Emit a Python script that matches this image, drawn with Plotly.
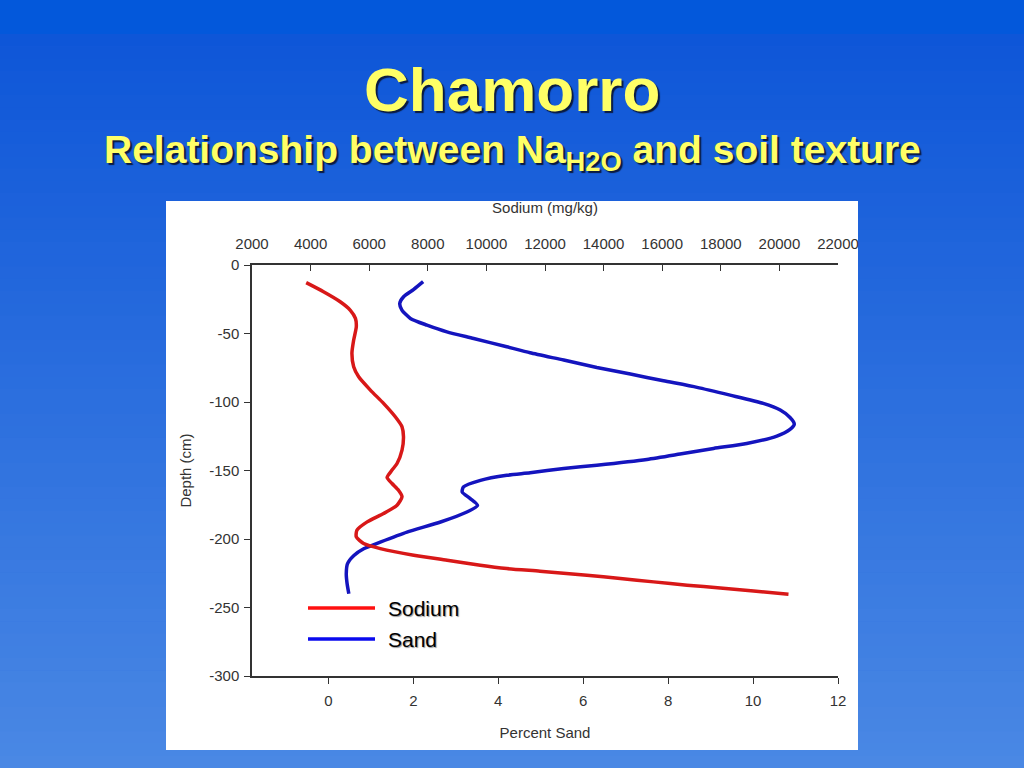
import plotly.graph_objects as go

# ---------------- data ----------------
sodium_depth = [-12.9, -19.5, -26.8, -32.9, -39.0, -45.1, -54.8, -64.5, -74.3, -81.6,
                -91.3, -101.0, -110.8, -118.1, -125.4, -135.1, -144.9, -149.7, -155.1, -159.5,
                -164.4, -169.2, -175.3, -181.4, -187.5, -193.6, -198.5, -203.3, -207.0, -211.9,
                -215.5, -219.2, -221.6, -223.5, -226.4, -228.9, -231.3, -233.7, -235.7, -237.9,
                -240.3]
sodium_mgkg = [3850, 4440, 5010, 5350, 5530, 5560, 5470, 5410, 5470, 5640,
               6040, 6490, 6890, 7120, 7170, 7120, 6950, 6780, 6610, 6780,
               7000, 7120, 6950, 6490, 5930, 5580, 5560, 5810, 6380, 7520,
               8660, 9790, 10700, 11830, 13430, 14570, 15710, 16850, 17980, 19120,
               20310]

sand_depth = [-12.2, -17.8, -23.2, -28.0, -32.9, -39.0, -43.9, -48.8, -53.6, -59.7,
              -64.1, -69.4, -74.8, -79.6, -84.5, -89.3, -95.0, -101.0, -105.9, -111.3,
              -116.1, -120.0, -124.9, -130.3, -133.9, -138.0, -141.9, -146.1, -148.5, -151.7,
              -153.5, -157.2, -162.0, -165.7, -170.5, -175.4, -180.3, -187.6, -195.0, -202.3,
              -207.1, -212.0, -218.0, -225.4, -232.7, -240.0]
sand_pct = [2.23, 2.01, 1.77, 1.68, 1.73, 1.93, 2.32, 2.79, 3.42, 4.20,
            4.75, 5.54, 6.32, 7.11, 7.89, 8.68, 9.46, 10.24, 10.64, 10.87,
            10.97, 10.87, 10.56, 9.85, 9.07, 8.28, 7.50, 6.32, 5.54, 4.75,
            4.20, 3.58, 3.18, 3.15, 3.34, 3.51, 3.26, 2.64, 1.85, 1.22,
            0.83, 0.60, 0.45, 0.42, 0.44, 0.48]

sand_ticks = [0, 2, 4, 6, 8, 10, 12]
sand_labels = ["0", "2", "4", "6", "8", "10", "12"]
sodium_ticks = [2000, 4000, 6000, 8000, 10000, 12000, 14000, 16000, 18000, 20000, 22000]
sodium_labels = ["2000", "4000", "6000", "8000", "10000", "12000", "14000", "16000",
                 "18000", "20000", "22000"]
depth_ticks = [0, -50, -100, -150, -200, -250, -300]
depth_labels = ["0", "-50", "-100", "-150", "-200", "-250", "-300"]

series_names = ["Sodium", "Sand"]

# ---------------- layout geometry ----------------
FW, FH = 1024, 768
PL, PR, PT, PB = 252, 838, 265, 676
PW, PH = PR - PL, PB - PT


def px(x):
    return (x - PL) / PW


def py(y):
    return (PB - y) / PH


def lerp(c1, c2, t):
    return "rgb(%d,%d,%d)" % tuple(round(a + (b - a) * t) for a, b in zip(c1, c2))


shapes = []
# top band
shapes.append(dict(type="rect", xref="paper", yref="paper", x0=px(0), x1=px(FW),
                   y0=py(34), y1=py(0), fillcolor="rgb(3,88,219)", line=dict(width=0),
                   layer="below"))
# gradient
c_top, c_bot = (14, 86, 216), (74, 136, 228)
n = 60
step = (FH - 34) / n
for i in range(n):
    y0 = 34 + i * step
    y1 = y0 + step + 0.6
    shapes.append(dict(type="rect", xref="paper", yref="paper", x0=px(0), x1=px(FW),
                       y0=py(min(y1, FH)), y1=py(y0),
                       fillcolor=lerp(c_top, c_bot, (i + 0.5) / n),
                       line=dict(width=0), layer="below"))
# white chart panel
shapes.append(dict(type="rect", xref="paper", yref="paper", x0=px(166), x1=px(858),
                   y0=py(750), y1=py(201), fillcolor="white", line=dict(width=0),
                   layer="below"))
# legend keys
shapes.append(dict(type="line", xref="paper", yref="paper", x0=px(308), x1=px(375),
                   y0=py(608), y1=py(608), line=dict(color="#FF1010", width=3.5)))
shapes.append(dict(type="line", xref="paper", yref="paper", x0=px(308), x1=px(375),
                   y0=py(639), y1=py(639), line=dict(color="#0A0AEE", width=3.5)))

title_font = dict(family="Liberation Sans, Arial, sans-serif", color="#FFFF66",
                  shadow="2px 2px 1px #0A1A40")
legend_font = dict(size=21, family="Liberation Sans, Arial, sans-serif", color="black",
                   shadow="1px 1px 1px #999")
annotations = [
    dict(text="<b>Chamorro</b>", xref="paper", yref="paper", x=px(512), y=py(89),
         showarrow=False, xanchor="center", yanchor="middle",
         font=dict(size=62, **title_font)),
    dict(text="<b>Relationship between Na<sub>H2O</sub> and soil texture</b>",
         xref="paper", yref="paper", x=px(512), y=py(152), showarrow=False,
         xanchor="center", yanchor="middle", font=dict(size=39, **title_font)),
    dict(text=series_names[0], xref="paper", yref="paper", x=px(386), y=py(608),
         showarrow=False, xanchor="left", yanchor="middle", font=legend_font),
    dict(text=series_names[1], xref="paper", yref="paper", x=px(386), y=py(639),
         showarrow=False, xanchor="left", yanchor="middle", font=legend_font),
]

axis_font = dict(family="Liberation Sans, Arial, sans-serif", size=15, color="#333333")

fig = go.Figure()
fig.add_trace(go.Scatter(x=sodium_mgkg, y=sodium_depth, mode="lines", name=series_names[0],
                         xaxis="x2", yaxis="y",
                         line=dict(color="#D81818", width=3.5, shape="spline", smoothing=0.6)))
fig.add_trace(go.Scatter(x=sand_pct, y=sand_depth, mode="lines", name=series_names[1],
                         xaxis="x", yaxis="y",
                         line=dict(color="#1414BE", width=3.5, shape="spline", smoothing=0.6)))

common = dict(tickcolor="#333", showline=True, linecolor="#333", linewidth=1.5,
              showgrid=False, zeroline=False, tickfont=axis_font, ticklen=6)

fig.update_layout(
    width=FW, height=FH,
    margin=dict(l=PL, r=FW - PR, t=PT, b=FH - PB, pad=0),
    paper_bgcolor="rgb(40,105,222)",
    plot_bgcolor="rgba(0,0,0,0)",
    showlegend=False,
    shapes=shapes,
    annotations=annotations,
    xaxis=dict(range=[-1.8, 12], tickvals=sand_ticks, ticktext=sand_labels,
               ticks="outside", ticklabelstandoff=4,
               title=dict(text="Percent Sand", font=axis_font, standoff=20), **common),
    xaxis2=dict(range=[2000, 22000], tickvals=sodium_ticks, ticktext=sodium_labels,
                overlaying="x", side="top", ticks="inside", ticklabelstandoff=8,
                title=dict(text="Sodium (mg/kg)", font=axis_font, standoff=18), **common),
    yaxis=dict(range=[-300, 0], tickvals=depth_ticks, ticktext=depth_labels,
               ticks="outside", ticklabelstandoff=2,
               title=dict(text="Depth (cm)", font=axis_font, standoff=14), **common),
)

fig.write_html("out.html", config={"displayModeBar": False},
               post_script="document.body.style.margin='0';")
